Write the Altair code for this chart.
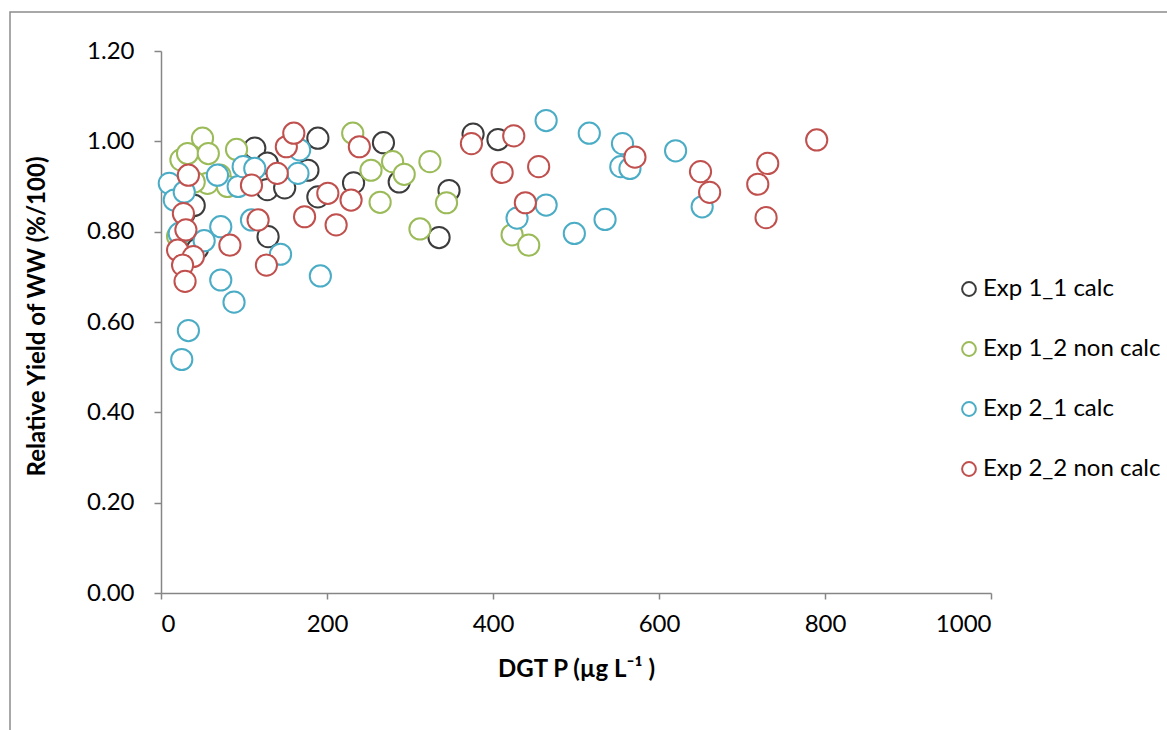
import altair as alt
import pandas as pd

series_names = ["Exp 1_1 calc", "Exp 1_2 non calc", "Exp 2_1 calc", "Exp 2_2 non calc"]
series_colors = ["#3c3c3c", "#9bbb59", "#4bacc6", "#c0504d"]

exp11_x = [28, 40, 44, 113, 128, 128, 149, 177, 189, 189, 129, 232, 268, 287, 347, 335, 376, 406]
exp11_y = [0.84, 0.858, 0.762, 0.985, 0.952, 0.893, 0.897, 0.936, 1.007, 0.877, 0.789, 0.908,
           0.997, 0.91, 0.891, 0.787, 1.016, 1.004]

exp12_x = [20, 24, 32, 50, 57, 91, 71, 56, 80, 40, 231, 253, 279, 293, 324, 264, 344, 312, 423, 443]
exp12_y = [0.79, 0.959, 0.973, 1.007, 0.973, 0.982, 0.925, 0.907, 0.90, 0.91, 1.018, 0.936,
           0.955, 0.927, 0.955, 0.865, 0.864, 0.806, 0.793, 0.77]

exp21_x = [10, 16, 28, 22, 25, 33, 52, 68, 72, 72, 88, 93, 99, 113, 109, 144, 165, 167, 192,
           429, 464, 464, 498, 516, 535, 554, 556, 565, 620, 652]
exp21_y = [0.907, 0.87, 0.888, 0.796, 0.517, 0.581, 0.78, 0.925, 0.811, 0.693, 0.644, 0.90,
           0.944, 0.94, 0.826, 0.75, 0.929, 0.981, 0.702, 0.83, 0.859, 1.046, 0.796, 1.018,
           0.827, 0.944, 0.995, 0.94, 0.979, 0.855]

exp22_x = [33, 27, 30, 20, 39, 26, 29, 83, 109, 117, 127, 140, 151, 160, 173, 201, 211, 229,
           239, 374, 411, 425, 439, 455, 571, 650, 661, 719, 729, 731, 790]
exp22_y = [0.925, 0.84, 0.804, 0.759, 0.745, 0.726, 0.69, 0.77, 0.903, 0.826, 0.726, 0.929,
           0.988, 1.018, 0.833, 0.885, 0.815, 0.87, 0.988, 0.995, 0.931, 1.012, 0.864, 0.944,
           0.965, 0.933, 0.887, 0.905, 0.831, 0.951, 1.003]

x_ticks = [0, 200, 400, 600, 800, 1000]
y_ticks = [0.0, 0.2, 0.4, 0.6, 0.8, 1.0, 1.2]

rows = []
for name, xs, ys in zip(series_names,
                        [exp11_x, exp12_x, exp21_x, exp22_x],
                        [exp11_y, exp12_y, exp21_y, exp22_y]):
    for xv, yv in zip(xs, ys):
        rows.append({"series": name, "dgt": xv, "yield": yv})
df = pd.DataFrame(rows)
df["idx"] = range(len(df))

W, H = 830, 542
PL, PT = 161, 51
FONT = "Lato"
AX = "#868686"

points = alt.Chart(df).mark_point(
    shape="circle", size=450, strokeWidth=2, fill="white", fillOpacity=1, opacity=1
).encode(
    x=alt.X("dgt:Q", scale=alt.Scale(domain=[0, 1000], nice=False, zero=False),
            axis=alt.Axis(values=x_ticks, format="d", title="DGT P (µg L⁻¹ )",
                          titleX=W / 2, titleY=76, titleBaseline="middle",
                          labelPadding=13, tickSize=6)),
    y=alt.Y("yield:Q", scale=alt.Scale(domain=[0, 1.2], nice=False, zero=False),
            axis=alt.Axis(values=y_ticks, format=".2f", title="Relative Yield of WW (%/100)",
                          titleX=-124, titleY=H / 2 - 6, titleBaseline="middle", titleAngle=-90,
                          labelPadding=20, tickSize=7)),
    stroke=alt.Stroke("series:N", scale=alt.Scale(domain=series_names, range=series_colors),
                      legend=alt.Legend(title=None, orient="none", legendX=796, legendY=226,
                                        symbolType="circle", symbolSize=190,
                                        symbolStrokeWidth=2, symbolFillColor="white",
                                        labelFontSize=24, labelFont=FONT, labelColor="#000000",
                                        labelLimit=0, rowPadding=36, labelOffset=2, padding=0)),
    order=alt.Order("idx:Q"),
)

frame = alt.Chart(pd.DataFrame({"a": [0]})).mark_rect(
    fill=None, stroke="#8c8c8c", strokeWidth=1.5
).encode(
    x=alt.value(10 - PL), x2=alt.value(1167 - PL + 20),
    y=alt.value(12 - PT), y2=alt.value(730 - PT + 20),
)

chart = alt.layer(frame, points).properties(
    width=W, height=H,
    autosize=alt.AutoSizeParams(type="none"),
    padding={"left": PL, "top": PT, "right": 1167 - PL - W, "bottom": 730 - PT - H},
    background="white",
).configure_view(stroke=None).configure_axis(
    grid=False, domainColor=AX, tickColor=AX, domainWidth=1.5, tickWidth=1.5,
    labelFont=FONT, labelFontSize=24, labelColor="#000000",
    titleFont=FONT, titleFontSize=24, titleFontWeight="bold", titleColor="#000000",
)

chart.save("out.html", embed_options={"renderer": "svg", "actions": False})
